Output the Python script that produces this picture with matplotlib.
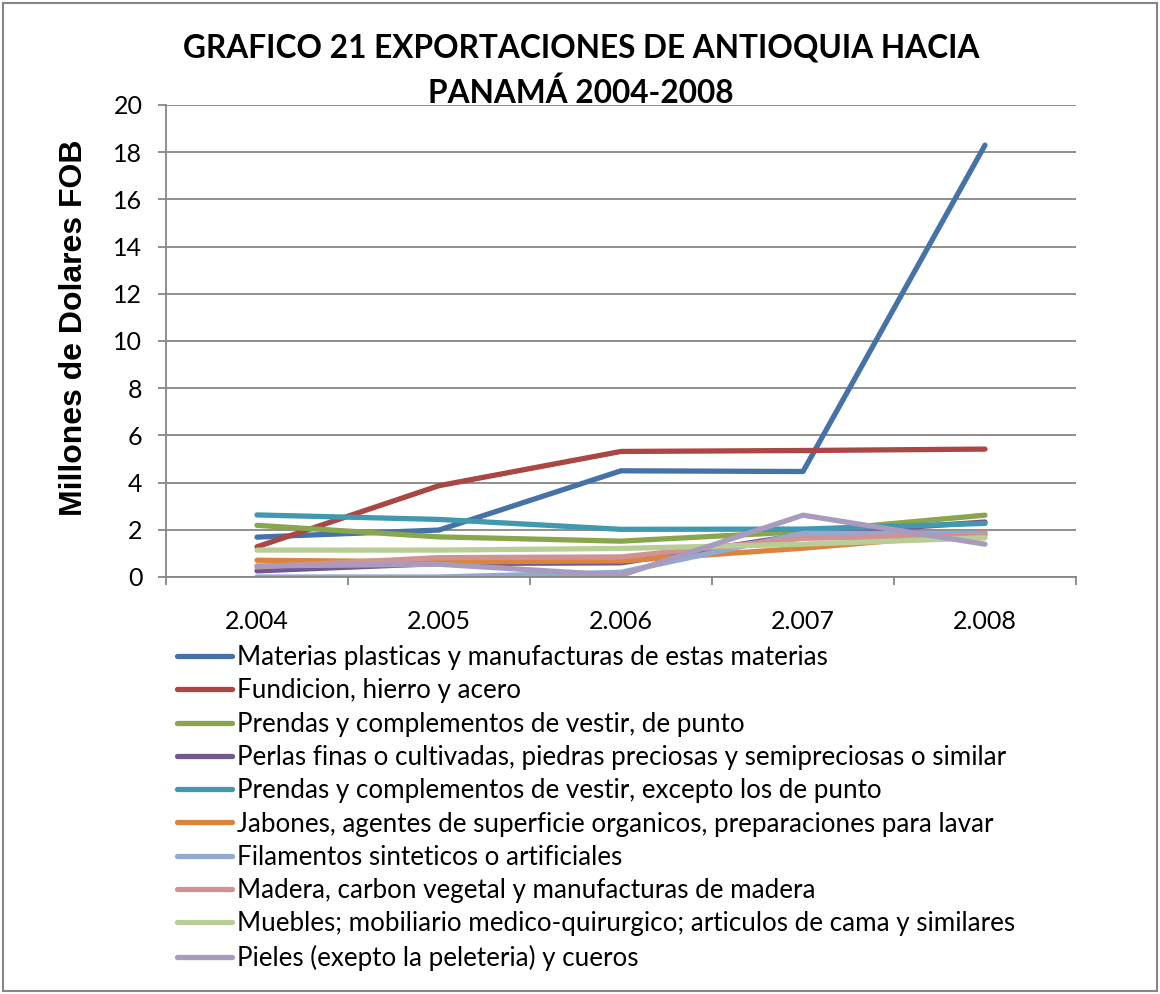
import matplotlib.pyplot as plt
from matplotlib.patches import Rectangle

# Data (millones de dolares FOB)
years = ['2.004', '2.005', '2.006', '2.007', '2.008']

materias_plasticas = [1.69, 1.99, 4.50, 4.47, 18.3]
fundicion = [1.28, 3.87, 5.32, 5.36, 5.42]
prendas_punto = [2.19, 1.70, 1.52, 1.92, 2.62]
perlas = [0.26, 0.57, 0.60, 1.80, 2.33]
prendas_excepto = [2.63, 2.44, 2.02, 2.03, 2.27]
jabones = [0.71, 0.64, 0.68, 1.22, 1.87]
filamentos = [0.00, 0.00, 0.20, 1.85, 1.84]
madera = [0.43, 0.82, 0.85, 1.64, 1.77]
muebles = [1.14, 1.14, 1.21, 1.39, 1.66]
pieles = [0.47, 0.54, 0.07, 2.62, 1.39]

labels = [
    'Materias plasticas y manufacturas de estas materias',
    'Fundicion, hierro y acero',
    'Prendas y complementos de vestir, de punto',
    'Perlas finas o cultivadas, piedras preciosas y semipreciosas o similar',
    'Prendas y complementos de vestir, excepto los de punto',
    'Jabones, agentes de superficie organicos, preparaciones para lavar',
    'Filamentos sinteticos o artificiales',
    'Madera, carbon vegetal y manufacturas de madera',
    'Muebles; mobiliario medico-quirurgico; articulos de cama y similares',
    'Pieles (exepto la peleteria) y cueros',
]
series = [materias_plasticas, fundicion, prendas_punto, perlas, prendas_excepto,
          jabones, filamentos, madera, muebles, pieles]
colors = ['#4572A7', '#AA4643', '#89A54E', '#71588F', '#4198AF',
          '#DB843D', '#93A9CF', '#D19392', '#B9CD96', '#A99BBD']

BODY_FONT = 'Lato'

fig = plt.figure(figsize=(11.6, 9.94), dpi=100)
ax = fig.add_axes([166 / 1160, 1 - 577 / 994, 910 / 1160, 472 / 994])

x = list(range(len(years)))
handles = []
for vals, lab, col in zip(series, labels, colors):
    h, = ax.plot(x, vals, color=col, lw=3.8, solid_capstyle='round',
                 solid_joinstyle='round', label=lab)
    handles.append(h)

ax.set_xlim(-0.5, len(years) - 0.5)
ax.set_ylim(0, 20)
ax.set_yticks(range(0, 21, 2))
ax.set_xticks(x)
ax.set_xticklabels(years)
ax.set_xticks([i - 0.5 for i in range(len(years) + 1)], minor=True)
ax.tick_params(axis='x', which='major', length=0, pad=24, labelsize=18)
ax.tick_params(axis='x', which='minor', length=6, width=1.3, color='#868686')
ax.tick_params(axis='y', length=6, width=1.3, color='#868686', pad=11, labelsize=18)
for lbl in ax.get_xticklabels() + ax.get_yticklabels():
    lbl.set_fontfamily(BODY_FONT)

ax.grid(axis='y', color='#868686', lw=1.3)
ax.set_axisbelow(True)
for side in ['top', 'right']:
    ax.spines[side].set_visible(False)
for side in ['left', 'bottom']:
    ax.spines[side].set_color('#868686')
    ax.spines[side].set_linewidth(1.3)

fig.text(74 / 1160, 1 - 328 / 994, 'Millones de Dolares FOB', rotation=90,
         ha='center', va='center', fontsize=23, fontweight='bold',
         family='Liberation Sans')

fig.text(581 / 1160, 1 - 71 / 994, 'GRAFICO 21 EXPORTACIONES DE ANTIOQUIA HACIA\nPANAMÁ 2004-2008',
         ha='center', va='center', fontsize=22.8, fontweight='bold',
         family=BODY_FONT, linespacing=1.6)

fig.legend(handles=handles, loc='upper left',
           bbox_to_anchor=(177 / 1160, 1 - 645 / 994),
           frameon=False, prop={'family': BODY_FONT, 'size': 18.7},
           handlelength=2.1, handletextpad=0.2, labelspacing=0.32,
           borderaxespad=0, borderpad=0)

fig.patches.append(Rectangle((3 / 1160, 3 / 994), 1154 / 1160, 988 / 994,
                             transform=fig.transFigure, fill=False,
                             edgecolor='#868686', lw=1.5))

fig.savefig('out.png', dpi=100)
